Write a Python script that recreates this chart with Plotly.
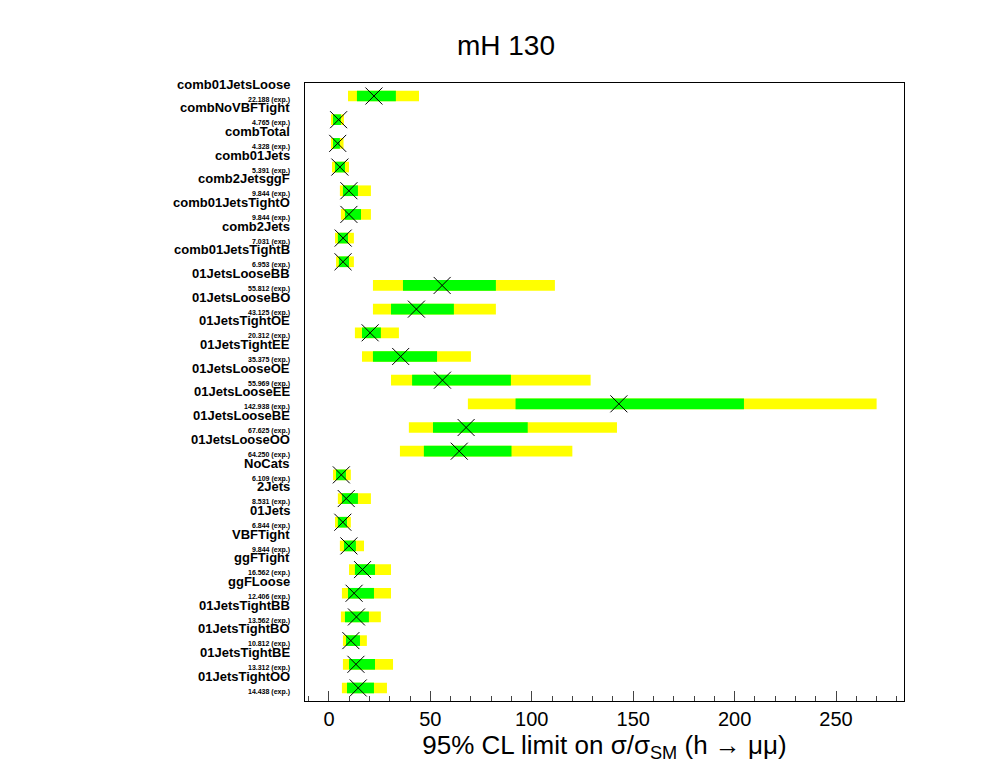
import plotly.graph_objects as go

# categories, top to bottom
names = ["comb01JetsLoose", "combNoVBFTight", "combTotal", "comb01Jets", "comb2JetsggF",
         "comb01JetsTightO", "comb2Jets", "comb01JetsTightB", "01JetsLooseBB", "01JetsLooseBO",
         "01JetsTightOE", "01JetsTightEE", "01JetsLooseOE", "01JetsLooseEE", "01JetsLooseBE",
         "01JetsLooseOO", "NoCats", "2Jets", "01Jets", "VBFTight", "ggFTight", "ggFLoose",
         "01JetsTightBB", "01JetsTightBO", "01JetsTightBE", "01JetsTightOO"]
expected = [22.188, 4.765, 4.328, 5.391, 9.844, 9.844, 7.031, 6.953, 55.812, 43.125,
            20.312, 35.375, 55.969, 142.938, 67.625, 64.250, 6.109, 8.531, 6.844, 9.844,
            16.562, 12.406, 13.562, 10.812, 13.312, 14.438]
# +-2 sigma band (yellow)
lo2 = [9.4, 1.0, 1.0, 1.5, 5.4, 5.9, 3.0, 3.5, 21.7, 21.7, 12.8, 16.3, 30.6, 68.5, 39.4,
       35.0, 2.0, 4.4, 3.0, 5.4, 9.9, 6.4, 5.9, 6.9, 6.9, 6.4]
hi2 = [44.4, 7.4, 7.2, 9.9, 20.7, 20.7, 12.3, 12.3, 111.4, 82.3, 34.5, 70.0, 129.0, 270.0,
       142.0, 120.0, 10.8, 20.7, 10.8, 17.3, 30.6, 30.6, 25.6, 18.7, 31.6, 28.6]
# +-1 sigma band (green)
lo1 = [13.8, 2.0, 2.0, 3.0, 6.9, 7.9, 4.4, 4.9, 36.5, 30.6, 16.3, 21.7, 41.0, 92.0, 51.3,
       46.8, 3.5, 6.4, 4.4, 7.4, 12.8, 9.4, 7.9, 8.4, 9.9, 8.9]
hi1 = [33.0, 5.9, 5.4, 7.9, 14.3, 15.8, 9.4, 9.9, 82.3, 61.6, 25.6, 53.3, 89.7, 204.6, 98.0,
       90.0, 8.4, 14.3, 8.9, 13.3, 22.7, 22.2, 19.7, 15.3, 22.7, 22.2]

ypos = list(range(len(names)))

fig = go.Figure()
fig.add_trace(go.Bar(y=ypos, x=[h - l for l, h in zip(lo2, hi2)], base=lo2, orientation="h",
                     marker=dict(color="#ffff00", line_width=0), width=0.45, showlegend=False))
fig.add_trace(go.Bar(y=ypos, x=[h - l for l, h in zip(lo1, hi1)], base=lo1, orientation="h",
                     marker=dict(color="#00ff00", line_width=0), width=0.45, showlegend=False))
fig.add_trace(go.Scatter(y=ypos, x=expected, mode="markers", showlegend=False,
                         marker=dict(symbol="x-thin-open", size=17, color="black",
                                     line=dict(width=1, color="black"))))

# row labels: name + expected limit
for y, n, e in zip(ypos, names, expected):
    fig.add_annotation(x=-0.021, xref="paper", y=y - 0.1, yref="y", text=f"<b>{n}</b>",
                       xanchor="right", yanchor="bottom", showarrow=False,
                       font=dict(size=13, color="black"))
    fig.add_annotation(x=-0.021, xref="paper", y=y - 0.1, yref="y", text=f"<b>{e:.3f} (exp.)</b>",
                       xanchor="right", yanchor="top", showarrow=False,
                       font=dict(size=7, color="black"))

fig.update_layout(
    width=996, height=772, barmode="overlay", plot_bgcolor="white", paper_bgcolor="white",
    margin=dict(l=297, r=100, t=75, b=79, autoexpand=False),
    font=dict(family="Liberation Sans, Arial", color="black"),
    title=dict(text="mH 130", x=0.5, xanchor="center", y=0.965, font=dict(size=28)),
)
fig.update_xaxes(range=[-11.8, 283.5], showgrid=False, zeroline=False, showline=True,
                 linecolor="black", mirror=True, ticks="inside", ticklen=10, automargin=False,
                 tickvals=[0, 50, 100, 150, 200, 250], minor=dict(ticks="inside", ticklen=5, dtick=10),
                 tickfont=dict(size=20),
                 title=dict(text="95% CL limit on σ/σ<sub>SM</sub> (h → μμ)", font=dict(size=26), standoff=6))
fig.update_yaxes(range=[25.55, -0.55], showgrid=False, zeroline=False, showline=True,
                 linecolor="black", mirror=True, ticks="", showticklabels=False, automargin=False)

fig.write_html("out.html")
